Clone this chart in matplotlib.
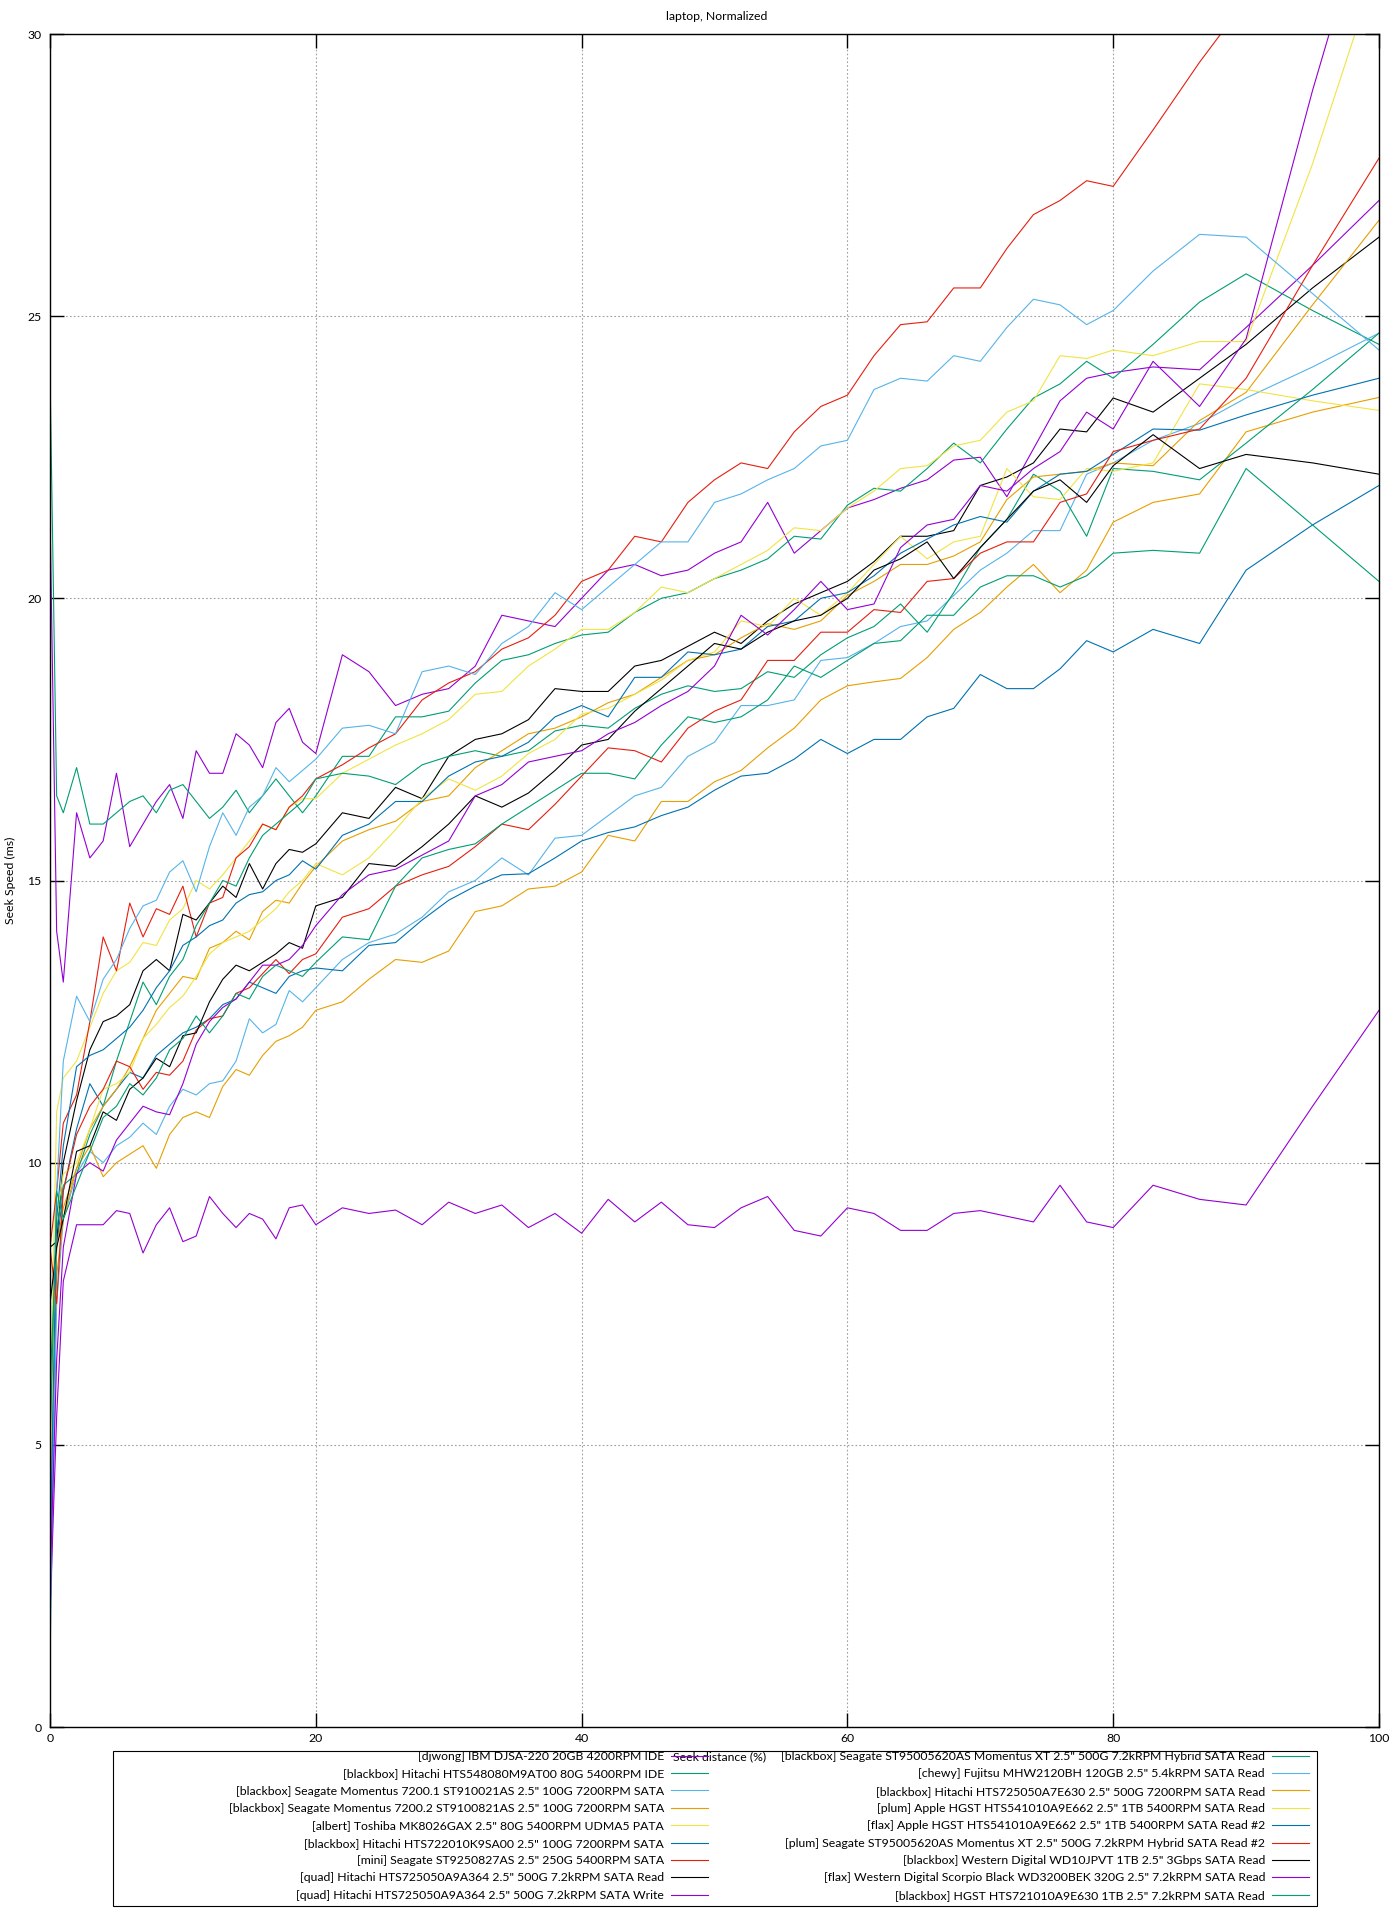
import matplotlib
matplotlib.use("Agg")
import matplotlib.pyplot as plt
from matplotlib.patches import Rectangle

plt.rcParams['font.family'] = ['Lato', 'DejaVu Sans']

# seek distance (% of disk), shared sample points
x_pct = [0, 0.5, 1,
         2, 3, 4, 5, 6, 7, 8, 9, 10, 11, 12, 13, 14, 15, 16, 17, 18, 19, 20,
         22, 24, 26, 28, 30, 32, 34, 36, 38, 40,
         42, 44, 46, 48, 50, 52, 54, 56, 58, 60,
         62, 64, 66, 68, 70, 72, 74, 76, 78, 80,
         83, 86.5, 90, 95, 100]

djwong_ibm = [21.5, 14.1, 13.2,
              16.2, 15.4, 15.7, 16.9, 15.6, 16.0, 16.4, 16.7, 16.1, 17.3, 16.9, 16.9, 17.6, 17.4, 17.0, 17.8, 18.05, 17.45, 17.25,
              19.0, 18.7, 18.1, 18.3, 18.4, 18.8, 19.7, 19.6, 19.5, 20.0,
              20.5, 20.6, 20.4, 20.5, 20.8, 21.0, 21.7, 20.8, 21.2, 21.6,
              21.75, 21.95, 22.1, 22.45, 22.5, 21.8, 22.65, 23.5, 23.9, 24.0,
              24.1, 24.05, 24.8, 25.9, 27.05]
bb_hitachi_ide = [24.0, 16.5, 16.2,
                  17.0, 16.0, 16.0, 16.2, 16.4, 16.5, 16.2, 16.6, 16.7, 16.4, 16.1, 16.3, 16.6, 16.2, 16.5, 16.8, 16.5, 16.2, 16.5,
                  17.2, 17.2, 17.9, 17.9, 18.0, 18.5, 18.9, 19.0, 19.2, 19.35,
                  19.4, 19.75, 20.0, 20.1, 20.35, 20.5, 20.7, 21.1, 21.05, 21.65,
                  21.95, 21.9, 22.3, 22.75, 22.4, 23.0, 23.55, 23.8, 24.2, 23.9,
                  24.5, 25.25, 25.75, 25.1, 24.5]
bb_momentus_1 = [1.2, 7.5, 9.0,
                 9.8, 10.2, 10.0, 10.3, 10.45, 10.7, 10.5, 11.0, 11.3, 11.2, 11.4, 11.45, 11.8, 12.55, 12.3, 12.45, 13.05, 12.85, 13.1,
                 13.6, 13.9, 14.05, 14.35, 14.8, 15.0, 15.4, 15.1, 15.75, 15.8,
                 16.15, 16.5, 16.65, 17.2, 17.45, 18.1, 18.1, 18.2, 18.9, 18.95,
                 19.2, 19.5, 19.6, 20.05, 20.5, 20.8, 21.2, 21.2, 22.2, 22.4,
                 22.8, 23.1, 23.55, 24.1, 24.7]
bb_momentus_2 = [4.0, 8.0, 9.0,
                 9.9, 10.3, 9.75, 10.0, 10.15, 10.3, 9.9, 10.5, 10.8, 10.9, 10.8, 11.35, 11.65, 11.55, 11.9, 12.15, 12.25, 12.4, 12.7,
                 12.85, 13.25, 13.6, 13.55, 13.75, 14.45, 14.55, 14.85, 14.9, 15.15,
                 15.8, 15.7, 16.4, 16.4, 16.75, 16.95, 17.35, 17.7, 18.2, 18.45,
                 18.52, 18.58, 18.95, 19.45, 19.75, 20.2, 20.6, 20.1, 20.5, 21.35,
                 21.7, 21.85, 22.95, 23.3, 23.56]
albert_toshiba = [5.5, 10.9, 11.5,
                  11.8, 12.4, 13.0, 13.4, 13.55, 13.9, 13.85, 14.3, 14.5, 15.0, 14.85, 15.1, 15.4, 15.7, 16.0, 15.9, 16.3, 16.45, 16.45,
                  16.9, 17.15, 17.4, 17.6, 17.85, 18.3, 18.35, 18.8, 19.1, 19.45,
                  19.45, 19.75, 20.2, 20.1, 20.35, 20.6, 20.85, 21.25, 21.2, 21.6,
                  21.9, 22.3, 22.35, 22.7, 22.8, 23.3, 23.5, 24.3, 24.25, 24.4,
                  24.3, 24.55, 24.55, 27.7, 31.3]
bb_hitachi_7200 = [2.5, 8.5, 9.5,
                   10.6, 11.4, 11.0, 11.3, 11.6, 11.5, 11.9, 12.1, 12.3, 12.4, 12.55, 12.8, 12.9, 13.2, 13.1, 13.0, 13.3, 13.4, 13.45,
                   13.4, 13.85, 13.9, 14.3, 14.65, 14.9, 15.1, 15.12, 15.4, 15.7,
                   15.85, 15.95, 16.15, 16.3, 16.6, 16.85, 16.9, 17.15, 17.5, 17.25,
                   17.5, 17.5, 17.9, 18.05, 18.65, 18.4, 18.4, 18.75, 19.25, 19.05,
                   19.45, 19.2, 20.5, 21.3, 22.0]
mini_seagate = [8.5, 9.5, 10.7,
                11.2, 12.5, 14.0, 13.4, 14.6, 14.0, 14.5, 14.4, 14.9, 14.0, 14.6, 14.7, 15.4, 15.6, 16.0, 15.9, 16.3, 16.5, 16.8,
                17.05, 17.35, 17.6, 18.2, 18.5, 18.7, 19.1, 19.3, 19.7, 20.3,
                20.5, 21.1, 21.0, 21.7, 22.1, 22.4, 22.3, 22.95, 23.4, 23.6,
                24.3, 24.85, 24.9, 25.5, 25.5, 26.2, 26.8, 27.05, 27.4, 27.3,
                28.3, 29.5, 30.6, 32.0, 33.5]
quad_read = [8.5, 8.6, 10.0,
             11.1, 12.0, 12.5, 12.6, 12.8, 13.4, 13.6, 13.4, 14.4, 14.3, 14.6, 14.9, 14.7, 15.3, 14.85, 15.3, 15.55, 15.5, 15.65,
             16.2, 16.1, 16.65, 16.45, 17.2, 17.5, 17.6, 17.85, 18.4, 18.35,
             18.35, 18.8, 18.9, 19.15, 19.4, 19.2, 19.6, 19.9, 20.1, 20.3,
             20.65, 21.1, 21.1, 21.2, 22.0, 22.15, 22.4, 23.0, 22.95, 23.55,
             23.3, 23.9, 24.5, 25.5, 26.4]
quad_write = [2.0, 5.5, 7.9,
              8.9, 8.9, 8.9, 9.15, 9.1, 8.4, 8.9, 9.2, 8.6, 8.7, 9.4, 9.1, 8.85, 9.1, 9.0, 8.65, 9.2, 9.25, 8.9,
              9.2, 9.1, 9.16, 8.9, 9.3, 9.1, 9.25, 8.85, 9.1, 8.75,
              9.35, 8.95, 9.3, 8.9, 8.85, 9.2, 9.4, 8.8, 8.7, 9.2,
              9.1, 8.8, 8.8, 9.1, 9.15, 9.05, 8.95, 9.6, 8.95, 8.85,
              9.6, 9.35, 9.25, 11.0, 12.7]
bb_seagate_xt = [6.0, 8.8, 9.6,
                 9.8, 10.5, 11.0, 11.8, 12.5, 13.2, 12.8, 13.3, 13.6, 14.2, 14.6, 15.0, 14.9, 15.4, 15.8, 16.0, 16.2, 16.4, 16.8,
                 16.9, 16.85, 16.7, 17.05, 17.2, 17.3, 17.2, 17.3, 17.65, 17.75,
                 17.7, 18.05, 18.3, 18.45, 18.35, 18.4, 18.7, 18.6, 19.0, 19.3,
                 19.5, 19.9, 19.4, 20.1, 20.9, 21.4, 22.2, 21.9, 21.1, 22.3,
                 22.25, 22.1, 22.75, 23.7, 24.7]
chewy_fujitsu = [1.5, 9.5, 11.8,
                 12.95, 12.5, 13.25, 13.6, 14.15, 14.55, 14.65, 15.15, 15.35, 14.8, 15.6, 16.2, 15.8, 16.3, 16.5, 17.0, 16.75, 16.95, 17.15,
                 17.7, 17.75, 17.6, 18.7, 18.8, 18.65, 19.2, 19.5, 20.1, 19.8,
                 20.2, 20.6, 21.0, 21.0, 21.7, 21.85, 22.1, 22.3, 22.7, 22.8,
                 23.7, 23.9, 23.85, 24.3, 24.2, 24.8, 25.3, 25.2, 24.85, 25.1,
                 25.8, 26.45, 26.4, 25.4, 24.4]
bb_hitachi_a7e = [5.0, 8.5, 9.2,
                  9.9, 10.6, 11.0, 11.3, 11.7, 12.2, 12.7, 13.0, 13.3, 13.25, 13.8, 13.9, 14.1, 13.95, 14.45, 14.65, 14.6, 14.95, 15.25,
                  15.7, 15.9, 16.05, 16.4, 16.5, 17.0, 17.3, 17.6, 17.7, 17.9,
                  18.15, 18.3, 18.6, 18.9, 19.0, 19.3, 19.55, 19.45, 19.6, 20.05,
                  20.3, 20.6, 20.6, 20.75, 21.0, 21.75, 22.15, 22.2, 22.25, 22.4,
                  22.35, 23.15, 23.65, 25.2, 26.7]
plum_apple_hgst = [4.0, 9.0, 9.8,
                   10.0, 10.6, 11.3, 11.4, 11.6, 12.2, 12.45, 12.75, 12.95, 13.3, 13.7, 13.9, 14.0, 14.1, 14.3, 14.5, 14.8, 15.0, 15.3,
                   15.1, 15.4, 15.9, 16.45, 16.8, 16.6, 16.85, 17.25, 17.5, 17.95,
                   18.05, 18.3, 18.55, 18.9, 19.05, 19.6, 19.5, 20.0, 19.7, 20.1,
                   20.6, 21.1, 20.7, 21.0, 21.1, 22.3, 21.8, 21.75, 22.3, 22.25,
                   22.4, 23.8, 23.7, 23.5, 23.33]
flax_apple_hgst = [3.0, 9.0, 10.3,
                   11.7, 11.9, 12.0, 12.2, 12.4, 12.7, 13.1, 13.4, 13.85, 14.0, 14.2, 14.3, 14.6, 14.75, 14.8, 15.0, 15.1, 15.35, 15.2,
                   15.8, 16.0, 16.4, 16.4, 16.85, 17.1, 17.2, 17.45, 17.9, 18.1,
                   17.9, 18.6, 18.6, 19.05, 19.0, 19.1, 19.5, 19.6, 20.0, 20.1,
                   20.4, 20.8, 21.05, 21.3, 21.45, 21.35, 21.9, 22.2, 22.25, 22.55,
                   23.0, 22.98, 23.25, 23.6, 23.9]
plum_seagate_xt = [8.5, 7.5, 9.5,
                   10.5, 11.0, 11.3, 11.8, 11.7, 11.3, 11.6, 11.55, 11.8, 12.35, 12.55, 12.6, 13.0, 13.1, 13.35, 13.6, 13.35, 13.6, 13.7,
                   14.35, 14.5, 14.9, 15.1, 15.25, 15.6, 16.0, 15.9, 16.35, 16.85,
                   17.35, 17.3, 17.1, 17.7, 18.0, 18.2, 18.9, 18.9, 19.4, 19.4,
                   19.8, 19.75, 20.3, 20.35, 20.8, 21.0, 21.0, 21.7, 21.85, 22.6,
                   22.8, 23.0, 23.9, 25.9, 27.8]
bb_wd10jpvt = [7.5, 8.5, 9.0,
               10.2, 10.3, 10.9, 10.75, 11.3, 11.5, 11.85, 11.7, 12.25, 12.3, 12.85, 13.25, 13.5, 13.4, 13.55, 13.7, 13.9, 13.8, 14.55,
               14.7, 15.3, 15.25, 15.6, 16.0, 16.5, 16.3, 16.55, 16.95, 17.4,
               17.5, 18.0, 18.4, 18.8, 19.2, 19.1, 19.4, 19.6, 19.7, 20.0,
               20.5, 20.7, 21.0, 20.35, 20.9, 21.4, 21.9, 22.1, 21.7, 22.35,
               22.9, 22.3, 22.55, 22.4, 22.2]
flax_scorpio = [2.5, 6.5, 8.5,
                9.8, 10.0, 9.85, 10.4, 10.7, 11.0, 10.9, 10.85, 11.4, 12.1, 12.5, 12.75, 12.9, 13.2, 13.5, 13.5, 13.6, 13.85, 14.2,
                14.75, 15.1, 15.2, 15.45, 15.7, 16.5, 16.7, 17.1, 17.2, 17.3,
                17.6, 17.8, 18.1, 18.35, 18.8, 19.7, 19.35, 19.8, 20.3, 19.8,
                19.9, 20.9, 21.3, 21.4, 22.0, 21.9, 22.3, 22.6, 23.3, 23.0,
                24.2, 23.4, 24.6, 29.0, 33.0]
bb_hgst_721010 = [5.0, 9.5, 9.0,
                  9.6, 10.2, 10.8, 11.0, 11.4, 11.2, 11.5, 12.0, 12.2, 12.6, 12.3, 12.6, 13.0, 12.9, 13.3, 13.5, 13.4, 13.3, 13.55,
                  14.0, 13.95, 14.9, 15.4, 15.55, 15.65, 16.0, 16.3, 16.6, 16.9,
                  16.9, 16.8, 17.4, 17.9, 17.8, 17.9, 18.2, 18.8, 18.6, 18.9,
                  19.2, 19.25, 19.7, 19.7, 20.2, 20.4, 20.4, 20.2, 20.4, 20.8,
                  20.85, 20.8, 22.3, 21.3, 20.3]

series = [djwong_ibm, bb_hitachi_ide, bb_momentus_1, bb_momentus_2, albert_toshiba,
          bb_hitachi_7200, mini_seagate, quad_read, quad_write,
          bb_seagate_xt, chewy_fujitsu, bb_hitachi_a7e, plum_apple_hgst, flax_apple_hgst,
          plum_seagate_xt, bb_wd10jpvt, flax_scorpio, bb_hgst_721010]

labels = [
    '[djwong] IBM DJSA-220 20GB 4200RPM IDE',
    '[blackbox] Hitachi HTS548080M9AT00 80G 5400RPM IDE',
    '[blackbox] Seagate Momentus 7200.1 ST910021AS 2.5" 100G 7200RPM SATA',
    '[blackbox] Seagate Momentus 7200.2 ST9100821AS 2.5" 100G 7200RPM SATA',
    '[albert] Toshiba MK8026GAX 2.5" 80G 5400RPM UDMA5 PATA',
    '[blackbox] Hitachi HTS722010K9SA00 2.5" 100G 7200RPM SATA',
    '[mini] Seagate ST9250827AS 2.5" 250G 5400RPM SATA',
    '[quad] Hitachi HTS725050A9A364 2.5" 500G 7.2kRPM SATA Read',
    '[quad] Hitachi HTS725050A9A364 2.5" 500G 7.2kRPM SATA Write',
    '[blackbox] Seagate ST95005620AS Momentus XT 2.5" 500G 7.2kRPM Hybrid SATA Read',
    '[chewy] Fujitsu MHW2120BH 120GB 2.5" 5.4kRPM SATA Read',
    '[blackbox] Hitachi HTS725050A7E630 2.5" 500G 7200RPM SATA Read',
    '[plum] Apple HGST HTS541010A9E662 2.5" 1TB 5400RPM SATA Read',
    '[flax] Apple HGST HTS541010A9E662 2.5" 1TB 5400RPM SATA Read #2',
    '[plum] Seagate ST95005620AS Momentus XT 2.5" 500G 7.2kRPM Hybrid SATA Read #2',
    '[blackbox] Western Digital WD10JPVT 1TB 2.5" 3Gbps SATA Read',
    '[flax] Western Digital Scorpio Black WD3200BEK 320G 2.5" 7.2kRPM SATA Read',
    '[blackbox] HGST HTS721010A9E630 1TB 2.5" 7.2kRPM SATA Read',
]

palette = ['#9400d3', '#009e73', '#56b4e9', '#e69f00',
           '#f0e442', '#0072b2', '#e51e10', '#000000']

fig = plt.figure(figsize=(14, 19.2), dpi=100)
ax = fig.add_axes([50 / 1400, 193 / 1920, 1329 / 1400, 1693 / 1920])

lines = []
for i, (ys, lab) in enumerate(zip(series, labels)):
    ln, = ax.plot(x_pct, ys, color=palette[i % 8], lw=0.8, label=lab)
    lines.append(ln)

ax.set_xlim(0, 100)
ax.set_ylim(0, 30)
ax.set_xticks([0, 20, 40, 60, 80, 100])
ax.set_yticks([0, 5, 10, 15, 20, 25, 30])
ax.tick_params(direction='in', length=10, width=1, top=True, right=True,
               labelsize=8.8, colors='black')
ax.tick_params(axis='y', pad=6)
ax.tick_params(axis='x', pad=4)
ax.grid(True, color='#a0a0a0', linestyle=(0, (1.5, 2.0)), linewidth=0.8)
ax.set_axisbelow(True)
for sp in ax.spines.values():
    sp.set_linewidth(1.0)

fig.text(717 / 1400, 1 - 16 / 1920, 'laptop, Normalized', ha='center', va='center', fontsize=8.8)
fig.text(10 / 1400, 1 - 880 / 1920, 'Seek Speed (ms)', ha='center', va='center',
         rotation=90, fontsize=8.8)

# legend box (gnuplot style: text right-aligned, sample to the right)
fig.add_artist(Rectangle((113 / 1400, 1 - 1906 / 1920), 1204 / 1400, 155 / 1920,
                         transform=fig.transFigure, fill=False, lw=0.8, ec='black'))
common = dict(frameon=False, markerfirst=False, fontsize=8.8, handlelength=3.0,
              handletextpad=0.6, labelspacing=0.52, borderpad=0, borderaxespad=0,
              loc='upper right', bbox_transform=fig.transFigure)
leg1 = fig.legend(lines[:9], labels[:9], bbox_to_anchor=(708 / 1400, 1 - 1751 / 1920), **common)
leg2 = fig.legend(lines[9:], labels[9:], bbox_to_anchor=(1309 / 1400, 1 - 1751 / 1920), **common)

fig.text(720 / 1400, 1 - 1757 / 1920, 'Seek distance (%)', ha='center', va='center', fontsize=8.8)

fig.savefig('out.png', dpi=100)
